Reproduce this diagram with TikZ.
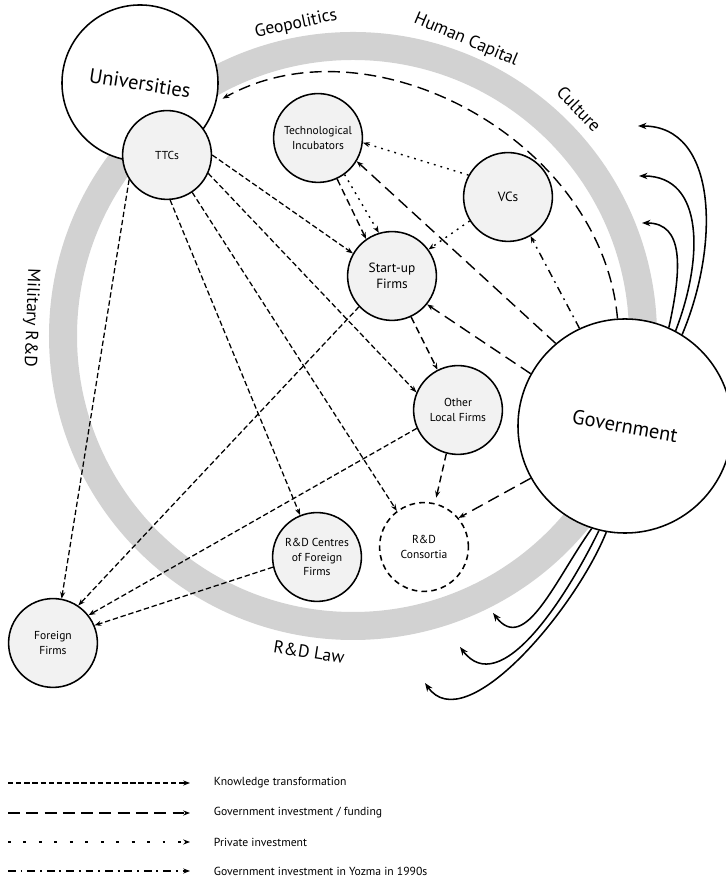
\documentclass[tikz,border=0pt]{standalone}
\usepackage{fontspec}
\setmainfont{PT Sans}
\usetikzlibrary{arrows.meta,calc}
\definecolor{ringgray}{RGB}{210,210,210}
\definecolor{agentgray}{RGB}{242,242,242}

\begin{document}
\begin{tikzpicture}[
    x=0.025cm, y=0.025cm,
    actor/.style={circle, draw, line width=1.1pt, fill=white},
    bigtext/.style={font=\fontsize{14.5}{16}\selectfont},
    agent/.style={circle, draw, line width=1.1pt, fill=agentgray, minimum size=2.22cm, align=center, inner sep=1pt, font=\fontsize{8.2}{10}\selectfont},
    envlabel/.style={font=\fontsize{12.5}{14}\selectfont},
    legtext/.style={anchor=west, font=\fontsize{8.3}{10}\selectfont},
    tip/.style={-{Stealth[length=4.8pt,width=3.6pt]}},
    know/.style={tip, line width=0.9pt, dash pattern=on 3.8pt off 2pt},
    fund/.style={tip, line width=1pt, dash pattern=on 8.5pt off 4.5pt},
    midflow/.style={tip, line width=1pt, dash pattern=on 5pt off 3pt},
    private/.style={tip, line width=1pt, dash pattern=on 1.3pt off 3.6pt},
    yozma/.style={tip, line width=1pt, dash pattern=on 5.5pt off 3.5pt on 1.3pt off 3.5pt},
    env/.style={-{Stealth[length=6pt,width=4.5pt]}, line width=1.1pt}
]
    \useasboundingbox (0,0) rectangle (725,879);

    % environment ring
    \coordinate (ring) at (353,543);
    \draw[ringgray, line width=0.7cm] (ring) circle (290);
    \node[envlabel, rotate=12] (geo) at (296,855) {Geopolitics};
    \node[envlabel, rotate=-23] (hcap) at (466,839) {Human Capital};
    \node[envlabel, rotate=-46] (cult) at (579,770) {Culture};
    \node[envlabel, rotate=-92] (mil) at (31,561) {Military R\&D};
    \node[envlabel, rotate=-9] (law) at (309,227) {R\&D Law};

    % actors
    \node[actor, minimum size=3.9cm, label={[bigtext, rotate=-9]center:Universities}] (uni) at (140,796) {};
    \node[actor, minimum size=5.35cm, label={[bigtext, rotate=-10]center:Government}] (gov) at (625,453) {};
    \node[agent] (ttc) at (167,724) {TTCs};
    \node[agent] (ti) at (318,741) {Technological\\Incubators};
    \node[agent, font=\fontsize{9.5}{11}\selectfont] (vcs) at (508,682) {VCs};
    \node[agent, font=\fontsize{9.5}{11}\selectfont] (su) at (392,603) {Start-up\\Firms};
    \node[agent] (olf) at (458,469) {Other\\Local Firms};
    \node[agent, fill=white, dash pattern=on 4pt off 3pt] (cons) at (424,332) {R\&D\\Consortia};
    \node[agent] (rdc) at (317,322) {R\&D Centres\\of Foreign\\Firms};
    \node[agent] (ff) at (53,236) {Foreign\\Firms};

    % knowledge transformation
    \draw[know] (ttc.0) -- (su.150);
    \draw[know] (ttc.-24) -- (olf.157);
    \draw[know] (ttc.-56) -- (cons.127);
    \draw[know] (ttc.-86) -- (rdc.112);
    \draw[know] (ttc.-147) -- (ff.79);
    \draw[know] (su.-137) -- (ff.56);
    \draw[know] (olf.-156) -- (ff.38);
    \draw[know] (rdc.-167) -- (ff.23);
    \draw[midflow] (su.-65) -- (olf.117);
    \draw[midflow, shorten >=4pt] (olf.-105) -- (cons.76);
    \draw[midflow] (ti.-65) -- (su.125);

    % government funding
    \draw[fund, shorten >=5pt] (gov.94) to[out=95, in=29, looseness=1] (uni.-14);
    \draw[fund] (gov.130) -- (ti.-31);
    \draw[fund] (gov.151) -- (su.-39);
    \draw[fund] (gov.-151) -- (cons.40);

    % private investment
    \draw[private] (vcs.151) -- (ti.-6);
    \draw[private] (vcs.-148) -- (su.36);
    \draw[private] (ti.-54) -- (su.107);

    % Yozma
    \draw[yozma] (gov.115) -- (vcs.-60);

    % links to the environment
    \coordinate (up1) at (642,656);
    \coordinate (up2) at (639,703);
    \coordinate (up3) at (638,753);
    \coordinate (dn1) at (493,266);
    \coordinate (dn2) at (460,232);
    \coordinate (dn3) at (425,196);
    \draw[env] (gov.66) .. controls (682,611) and (684,656) .. (up1);
    \draw[env] (gov.62) .. controls (703,619) and (705,703) .. (up2);
    \draw[env] (gov.58) .. controls (720,634) and (718,753) .. (up3);
    \draw[env] (gov.-108) .. controls (555,299) and (525,224) .. (dn1);
    \draw[env] (gov.-104) .. controls (565,279) and (500,179) .. (dn2);
    \draw[env] (gov.-100) .. controls (575,269) and (465,139) .. (dn3);

    % legend
    \coordinate (ka) at (8,96);
    \coordinate (kb) at (190,96);
    \node[legtext] (kl) at (209,96) {Knowledge transformation};
    \draw[know] (ka) -- (kb);
    \coordinate (fa) at (8,66);
    \coordinate (fb) at (190,66);
    \node[legtext] (fl) at (209,66) {Government investment / funding};
    \draw[fund] (fa) -- (fb);
    \coordinate (pa) at (8,37);
    \coordinate (pb) at (190,37);
    \node[legtext] (pl) at (209,37) {Private investment};
    \draw[private, dash pattern=on 2pt off 9pt] (pa) -- (pb);
    \coordinate (ya) at (8,8);
    \coordinate (yb) at (190,8);
    \node[legtext] (yl) at (209,8) {Government investment in Yozma in 1990s};
    \draw[yozma] (ya) -- (yb);
\end{tikzpicture}
\end{document}
